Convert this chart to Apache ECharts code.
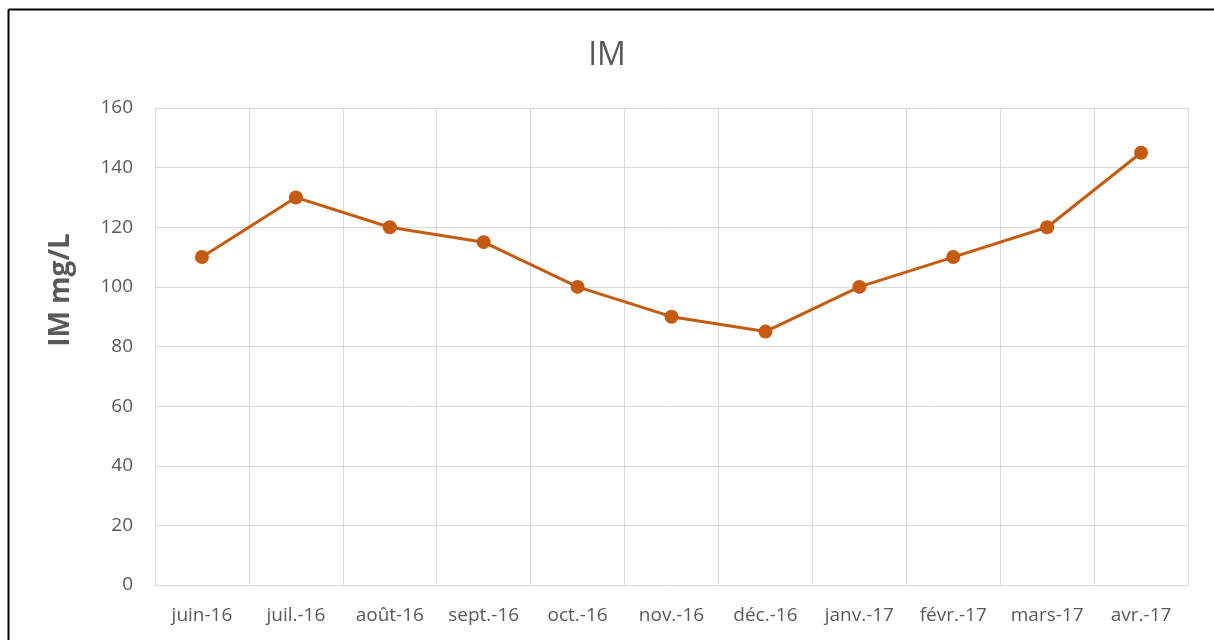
<!DOCTYPE html>
<html><head><meta charset="utf-8">
<script src="https://cdn.jsdelivr.net/npm/echarts@6/dist/echarts.min.js"></script>
<style>html,body{margin:0;padding:0;background:#fff}#c{width:1214px;height:640px}</style>
</head><body><div id="c"></div>
<script>
const categories = ['juin-16','juil.-16','août-16','sept.-16','oct.-16','nov.-16','déc.-16','janv.-17','févr.-17','mars-17','avr.-17'];
const imValues = [110,130,120,115,100,90,85,100,110,120,145];
const chartTitle = 'IM';
const yAxisName = 'IM mg/L';

const chart = echarts.init(document.getElementById('c'));
const font = 'Open Sans';
chart.setOption({
  animation: false,
  backgroundColor: '#fff',
  title: { text: chartTitle, left: 'center', top: 35, textStyle: { fontFamily: font, fontSize: 32, fontWeight: 'normal', color: '#595959' } },
  graphic: [
    { type: 'line', shape: { x1: 8.5, y1: 9.5, x2: 1214, y2: 9.5 }, style: { stroke: '#000', lineWidth: 2 } },
    { type: 'line', shape: { x1: 8.5, y1: 9.5, x2: 8.5, y2: 640 }, style: { stroke: '#000', lineWidth: 2 } },
    { type: 'text', x: 61, y: 290, rotation: Math.PI / 2,
      style: { text: yAxisName, align: 'center', verticalAlign: 'middle', fontFamily: font, fontSize: 28, fontWeight: 'bold', fill: '#595959' } }
  ],
  grid: { left: 155, right: 26, top: 108, bottom: 55, containLabel: false },
  xAxis: {
    type: 'category', data: categories, boundaryGap: true,
    axisLine: { show: true, lineStyle: { color: '#d9d9d9', width: 1 } },
    axisTick: { show: false },
    splitLine: { show: true, lineStyle: { color: '#d9d9d9', width: 1 } },
    axisLabel: { fontFamily: font, fontSize: 19, color: '#595959', margin: 21, interval: 0 }
  },
  yAxis: {
    type: 'value', min: 0, max: 160, interval: 20,
    axisLine: { show: false }, axisTick: { show: false },
    splitLine: { lineStyle: { color: '#d9d9d9', width: 1 } },
    axisLabel: { fontFamily: font, fontSize: 19, color: '#595959', margin: 22 }
  },
  series: [{
    type: 'line', data: imValues, symbol: 'circle', symbolSize: 14,
    lineStyle: { color: '#c55a11', width: 3 }, itemStyle: { color: '#c55a11' }
  }]
});
</script></body></html>
